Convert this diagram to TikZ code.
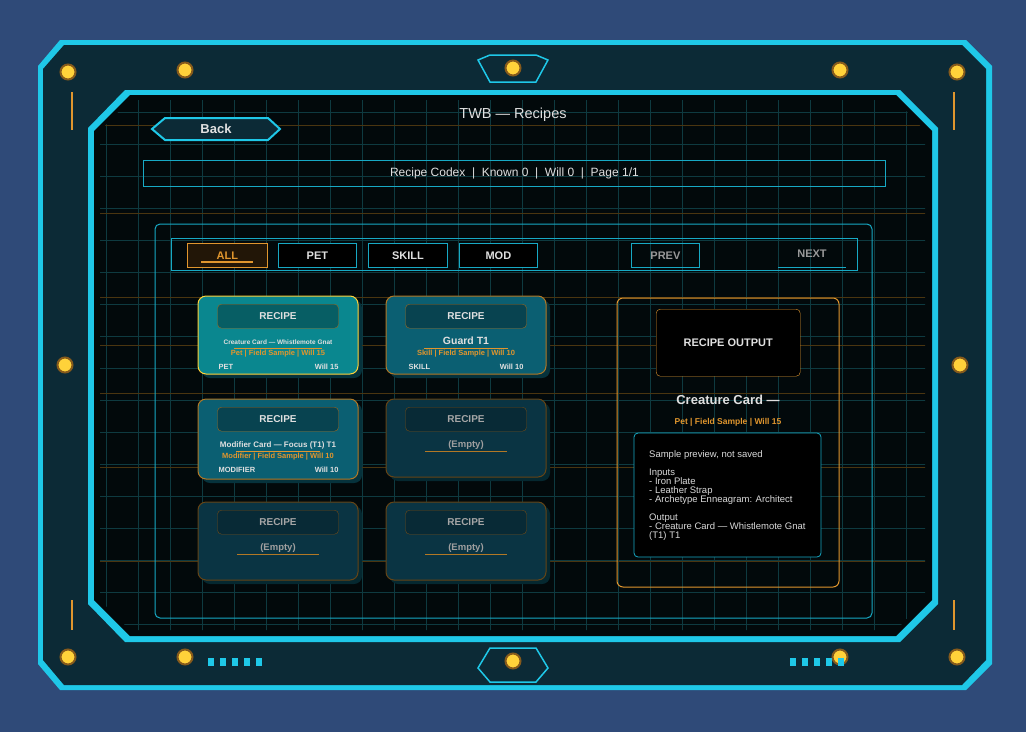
\documentclass[tikz,border=0pt]{standalone}
\usepackage{fontspec}
\setmainfont{Liberation Sans}
\usetikzlibrary{positioning,calc}
\definecolor{bgblue}{HTML}{2F4A78}
\definecolor{framedark}{HTML}{0C2A36}
\definecolor{frcyan}{HTML}{1FC8E8}
\definecolor{screen}{HTML}{02090B}
\definecolor{gridc}{HTML}{0E3A40}
\definecolor{grido}{HTML}{4A3510}
\definecolor{uicyan}{HTML}{17A9C4}
\definecolor{uiorange}{HTML}{E0962E}
\definecolor{cardhi}{HTML}{0A878F}
\definecolor{cardmid}{HTML}{0B5F72}
\definecolor{cardlow}{HTML}{0A3443}
\definecolor{cardshadow}{HTML}{06323C}
\definecolor{lamp}{HTML}{FFD23A}
\begin{document}
\begin{tikzpicture}[x=1pt,y=-1pt,
    lbl/.style={text=white!88!black, font=\bfseries\fontsize{11}{12}\selectfont},
    tab/.style={draw=uicyan, fill=black, line width=0.8pt, minimum width=78pt, minimum height=24pt, lbl, anchor=north west},
    card/.style={rounded corners=8pt, line width=1pt},
    recipebtn/.style={draw=uiorange!70!black, rounded corners=4pt, minimum width=121pt, minimum height=24pt, lbl, font=\bfseries\fontsize{10}{11}\selectfont, anchor=north},
    small/.style={font=\bfseries\fontsize{7.5}{8}\selectfont},
    lampdot/.style={circle, fill=lamp, draw=uiorange!60!black, line width=2pt, minimum size=15pt, inner sep=0pt}
  ]
  \fill[bgblue] (0,0) rectangle (1026,732);
  % frame
  \fill[frcyan] (60,40) -- (966,40) -- (992,66) -- (992,664) -- (966,690) -- (60,690) -- (38,664) -- (38,66) -- cycle;
  \fill[framedark] (64,45) -- (962,45) -- (986,69) -- (986,660) -- (962,685) -- (64,685) -- (43,660) -- (43,69) -- cycle;
  \draw[uiorange, line width=2pt] (72,92) -- (72,130) (954,92) -- (954,130) (72,600) -- (72,630) (954,600) -- (954,630);
  \fill[frcyan] (125,90) -- (900,90) -- (938,128) -- (938,604) -- (900,642) -- (125,642) -- (88,604) -- (88,128) -- cycle;
  \fill[screen] (130,95) -- (896,95) -- (932,131) -- (932,600) -- (896,636) -- (130,636) -- (94,600) -- (94,131) -- cycle;
  % grid
  \begin{scope}
    \clip (130,100) -- (896,100) -- (925,131) -- (925,600) -- (896,630) -- (130,630) -- (100,600) -- (100,131) -- cycle;
    \foreach \gx in {106,138,...,922} \draw[gridc, line width=0.8pt] (\gx,100) -- (\gx,632);
    \foreach \gy in {112,144,...,630} \draw[gridc, line width=0.8pt] (100,\gy) -- (926,\gy);
    \foreach \gy in {125,213,297,345,393,467,561} \draw[grido, line width=0.8pt] (100,\gy) -- (926,\gy);
  \end{scope}
  % lamps
  \foreach \lx/\ly in {68/72,185/70,513/68,840/70,957/72,68/657,185/657,513/661,840/657,957/657,65/365,960/365}
    \node[lampdot] (lamp-\lx-\ly) at (\lx,\ly) {};
  \draw[frcyan, line width=1.5pt] (478,60) -- (490,55) -- (536,55) -- (548,60) -- (536,82) -- (490,82) -- cycle;
  \draw[frcyan, line width=1.5pt] (478,668) -- (490,648) -- (536,648) -- (548,668) -- (536,682) -- (490,682) -- cycle;
  \foreach \sx in {208,220,...,256} \fill[frcyan] (\sx,658) rectangle ++(6,8);
  \foreach \sx in {790,802,...,838} \fill[frcyan] (\sx,658) rectangle ++(6,8);
  % title and back
  \node[lbl, font=\fontsize{14.5}{16}\selectfont] (title) at (513,115) {TWB — Recipes};
  \draw[frcyan, line width=2pt, fill=framedark] (165,118) -- (268,118) -- (280,129) -- (268,140) -- (165,140) -- (152,129) -- cycle;
  \node[lbl, font=\bfseries\fontsize{13}{14}\selectfont] (back) at (216,129) {Back};
  % header
  \node[draw=uicyan, line width=0.8pt, minimum width=742pt, minimum height=26pt, anchor=north west, lbl, font=\fontsize{12}{14}\selectfont] (header) at (143,160) {Recipe Codex \ | \ Known 0 \ | \ Will 0 \ | \ Page 1/1};
  % panel
  \draw[uicyan, line width=1pt, rounded corners=5pt] (155,224) rectangle (872,618);
  \draw[uicyan, line width=0.8pt] (171,238) rectangle (857,270);
  \node[tab, draw=uiorange, fill=uiorange!15!black, text=uiorange, minimum width=80pt] (all) at (187,243) {ALL};
  \draw[uiorange, line width=1.5pt] (201,262) -- (253,262);
  \node[tab] (pet) at (278,243) {PET};
  \node[tab, minimum width=79pt] (skill) at (368,243) {SKILL};
  \node[tab] (mod) at (459,243) {MOD};
  \node[tab, minimum width=68pt, text=gray!80, fill=none] (prev) at (631,243) {PREV};
  \node[lbl, text=gray!80] (next) at (812,254) {NEXT};
  \draw[uicyan, line width=0.8pt] (778,267) -- (846,267);
  % cards
  \draw[card, fill=cardshadow, draw=none] (202,300) rectangle (362,378);
  \draw[card, fill=cardhi, draw=lamp] (198,296) rectangle (358,374);
  \node[recipebtn, fill=cardhi!70!black] (r1) at (278,304) {RECIPE};
  \node[lbl, small, font=\bfseries\fontsize{6.5}{7}\selectfont] (n1) at (278,342) {Creature Card — Whistlemote Gnat};
  \draw[uiorange] (234,348) -- (322,348);
  \node[small, text=uiorange] (s1) at (278,354) {Pet | Field Sample | Will 15};
  \node[lbl, small, anchor=west] (t1) at (215,367) {PET};
  \node[lbl, small, anchor=east] (w1) at (342,367) {Will 15};

  \draw[card, fill=cardshadow, draw=none] (390,300) rectangle (550,378);
  \draw[card, fill=cardmid, draw=uiorange!80!black] (386,296) rectangle (546,374);
  \node[recipebtn, fill=cardmid!70!black] (r2) at (466,304) {RECIPE};
  \node[lbl, font=\bfseries\fontsize{10.5}{11}\selectfont] (n2) at (466,341) {Guard T1};
  \draw[uiorange] (424,348) -- (508,348);
  \node[small, text=uiorange] (s2) at (466,354) {Skill | Field Sample | Will 10};
  \node[lbl, small, anchor=west] (t2) at (405,367) {SKILL};
  \node[lbl, small, anchor=east] (w2) at (527,367) {Will 10};

  \draw[card, fill=cardshadow, draw=none] (202,403) rectangle (362,483);
  \draw[card, fill=cardmid, draw=uiorange!80!black] (198,399) rectangle (358,479);
  \node[recipebtn, fill=cardmid!70!black] (r3) at (278,407) {RECIPE};
  \node[lbl, small, font=\bfseries\fontsize{8}{9}\selectfont] (n3) at (278,445) {Modifier Card — Focus (T1) T1};
  \draw[uiorange] (236,451) -- (320,451);
  \node[small, text=uiorange] (s3) at (278,457) {Modifier | Field Sample | Will 10};
  \node[lbl, small, anchor=west] (t3) at (215,470) {MODIFIER};
  \node[lbl, small, anchor=east] (w3) at (342,470) {Will 10};

  \foreach \cx/\cy/\cn in {386/399/e1,198/502/e2,386/502/e3} {
    \draw[card, fill=cardshadow!80!black, draw=none] (\cx+4,\cy+4) rectangle (\cx+164,\cy+82);
    \draw[card, fill=cardlow, draw=uiorange!45!black] (\cx,\cy) rectangle (\cx+160,\cy+78);
    \node[recipebtn, fill=cardlow!80!black, text=gray!70, draw=uiorange!50!black] (r-\cn) at (\cx+80,\cy+8) {RECIPE};
    \node[lbl, text=gray!75, font=\bfseries\fontsize{9.5}{10}\selectfont] (empty-\cn) at (\cx+80,\cy+46) {(Empty)};
    \draw[uiorange!80!black, line width=1pt] (\cx+39,\cy+52) -- (\cx+121,\cy+52);
  }
  % output panel
  \draw[uiorange, line width=1pt, rounded corners=6pt] (617,298) rectangle (839,587);
  \node[draw=uiorange, rounded corners=4pt, fill=black, minimum width=144pt, minimum height=67pt, anchor=north west, lbl, font=\bfseries\fontsize{11}{12}\selectfont] (outbox) at (656,309) {RECIPE OUTPUT};
  \node[lbl, font=\bfseries\fontsize{13}{14}\selectfont] (outname) at (728,400) {Creature Card —};
  \node[small, text=uiorange, font=\bfseries\fontsize{8.5}{9}\selectfont] (outsub) at (728,422) {Pet | Field Sample | Will 15};
  \draw[uicyan, fill=black, rounded corners=4pt, line width=0.8pt] (634,433) rectangle (821,557);
  \node[anchor=north west, align=left, text=white!85!black, font=\fontsize{9.5}{9}\selectfont, inner sep=0pt] (outtext) at (649,450)
    {Sample preview, not saved\\[9pt]Inputs\\- Iron Plate\\- Leather Strap\\- Archetype Enneagram: Architect\\[9pt]Output\\- Creature Card — Whistlemote Gnat\\(T1) T1};
\end{tikzpicture}
\end{document}
